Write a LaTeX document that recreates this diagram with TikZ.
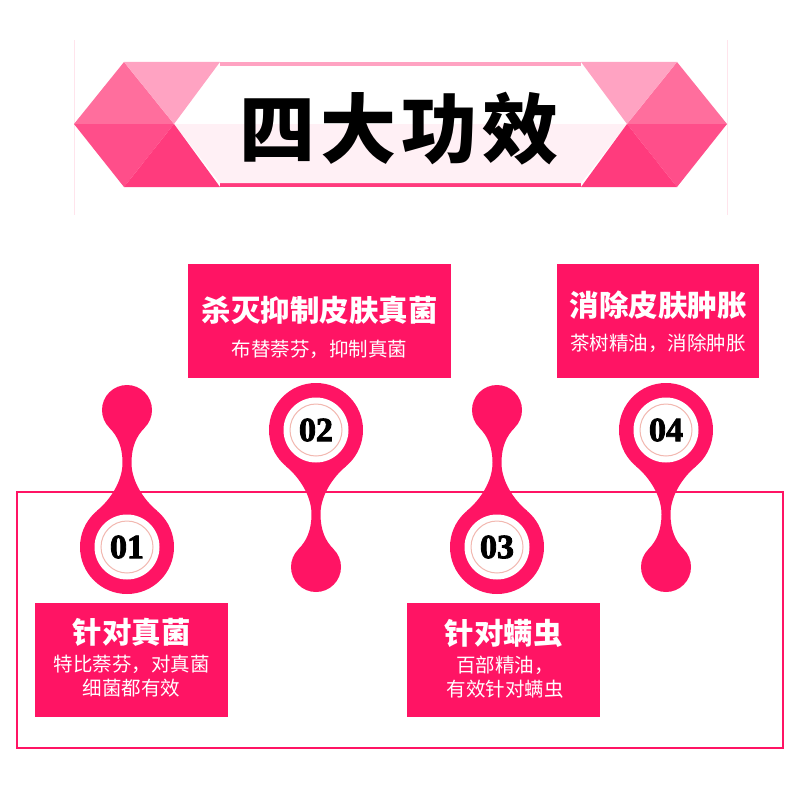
\documentclass[tikz,border=0pt]{standalone}
\usepackage{fontspec}
\newfontfamily\cjk{Noto Sans CJK SC}
\newfontfamily\numfont{Liberation Serif}[FakeBold=2.5]
\usepackage{xcolor}
\usepackage{tikz}
\definecolor{pinkmain}{RGB}{255,20,100}
\definecolor{bannerlight}{RGB}{255,163,194}
\definecolor{bannermid}{RGB}{255,110,157}
\definecolor{bannerlow}{RGB}{255,78,138}
\definecolor{bannerdeep}{RGB}{255,59,125}
\definecolor{bannerfill}{RGB}{255,240,245}
\definecolor{ringline}{RGB}{242,184,176}
\definecolor{framefaint}{RGB}{255,228,236}

\begin{document}
\begin{tikzpicture}[x=1pt, y=-1pt,
            box/.style={fill=pinkmain, minimum width=#1, minimum height=114pt, inner sep=0pt},
            head/.style={text=white, font=\cjk\bfseries\fontsize{29.5}{32}\selectfont, inner sep=0pt},
            sub/.style={text=white, font=\cjk\fontsize{19.5}{24}\selectfont, inner sep=0pt, align=center},
            num/.style={font=\numfont\bfseries\fontsize{34}{36}\selectfont, inner sep=0pt}
            ]
            \useasboundingbox (0,0) rectangle (800,800);

            % Banner
            \draw[framefaint] (74,40) -- (74,215) (727,40) -- (727,215);
            \fill[bannerlight] (220,62) rectangle (581,66.5);
            \fill[bannerdeep] (220,183) rectangle (581,187);
            \fill[bannerfill] (174,124) -- (627,124) -- (581,183) -- (220,183) -- cycle;
            \fill[bannermid] (74,124) -- (124,62) -- (174,124) -- cycle;
            \fill[bannerlight] (124,62) -- (220,62) -- (174,124) -- cycle;
            \fill[bannerlow] (74,124) -- (174,124) -- (124,187) -- cycle;
            \fill[bannerdeep] (124,187) -- (174,124) -- (220,187) -- cycle;
            \fill[bannermid] (727,124) -- (677,62) -- (627,124) -- cycle;
            \fill[bannerlight] (677,62) -- (581,62) -- (627,124) -- cycle;
            \fill[bannerlow] (727,124) -- (627,124) -- (677,187) -- cycle;
            \fill[bannerdeep] (677,187) -- (627,124) -- (581,187) -- cycle;
            \node[font=\cjk\bfseries\fontsize{76}{80}\selectfont\addfontfeatures{LetterSpace=7}] (title) at (399,129) {四大功效};

            % Frame
            \draw[pinkmain, line width=2.5pt] (17,492) rectangle (783,748);

            % Pins
            \foreach \n/\px/\py/\dir in {01/127/547/1, 02/316/430/-1, 03/497/547/1, 04/666/430/-1}{
              \begin{scope}[shift={(\px,\py)}, yscale=\dir]
                \fill[pinkmain] (0,0) circle[radius=47] (0,-137) circle[radius=25];
                \fill[pinkmain] (30.2,-36) .. controls (16.4,-47.6) and (4.5,-66) .. (4.5,-84)
                  .. controls (4.5,-100) and (9.2,-110.8) .. (17.7,-119.3) -- (-17.7,-119.3)
                  .. controls (-9.2,-110.8) and (-4.5,-100) .. (-4.5,-84)
                  .. controls (-4.5,-66) and (-16.4,-47.6) .. (-30.2,-36) -- cycle;
                \fill[white] (0,0) circle[radius=32.5];
                \draw[ringline, line width=1pt] (0,0) circle[radius=26];
              \end{scope}
              \node[num] (pin\n) at (\px,\py) {\n};
            }

            % Boxes with manual coordinates
            \node[box=193pt] (box1) at (131.5,660) {};
            \node[head] (head1) at (131.5,632) {针对真菌};
            \node[sub] (sub1) at (131.5,676.5) {特比萘芬，对真菌\\细菌都有效};

            \node[box=263pt] (box2) at (319.5,321) {};
            \node[head] (head2) at (319.5,310) {杀灭抑制皮肤真菌};
            \node[sub] (sub2) at (319.5,349) {布替萘芬，抑制真菌};

            \node[box=193pt] (box3) at (503.5,660) {};
            \node[head] (head3) at (503.5,633) {针对螨虫};
            \node[sub] (sub3) at (505,677.5) {百部精油，\\有效针对螨虫};

            \node[box=202pt] (box4) at (658,321) {};
            \node[head] (head4) at (658,305) {消除皮肤肿胀};
            \node[sub] (sub4) at (658,343) {茶树精油，消除肿胀};
        \end{tikzpicture}
\end{document}
